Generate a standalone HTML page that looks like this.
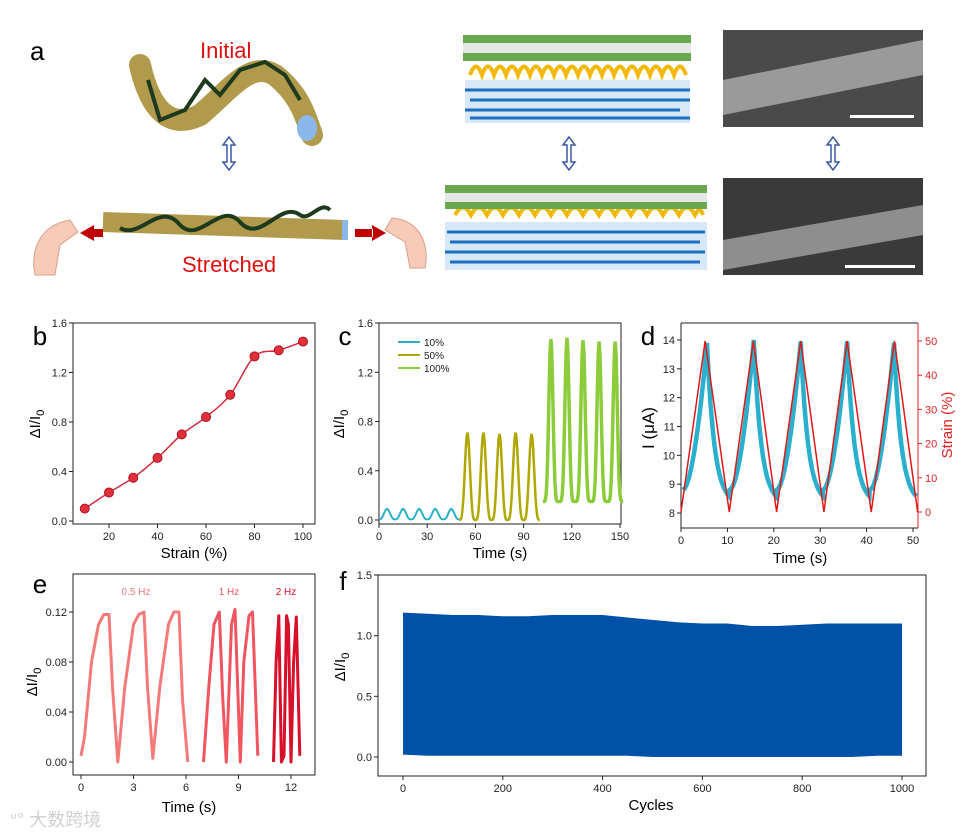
<!DOCTYPE html>
<html><head><meta charset="utf-8">
<style>
body{margin:0;background:#fff;}
svg{display:block;font-family:"Liberation Sans",Arial,sans-serif;}
</style></head>
<body>
<svg id="fig" width="966" height="834" viewBox="0 0 966 834" xmlns="http://www.w3.org/2000/svg">
<g>
<text x="30" y="60" font-size="26">a</text>
<text x="200" y="58" font-size="22" fill="#e01010">Initial</text>
<path d="M140 65 C150 110,170 130,200 115 C230 90,250 60,275 75 C300 95,305 115,312 135" stroke="#b29a4c" stroke-width="22" fill="none" stroke-linecap="round"/>
<ellipse cx="307" cy="128" rx="10" ry="13" fill="#8ab8ea"/>
<path d="M148 80 L160 120 L185 110 L205 80 L220 95 L240 70 L265 62 L285 75 L300 100" stroke="#1e3a1e" stroke-width="4" fill="none"/>
<text x="182" y="272" font-size="22" fill="#e01010">Stretched</text>
<path d="M103 222 L345 230" stroke="#b29a4c" stroke-width="20" fill="none"/>
<rect x="342" y="220" width="6" height="20" fill="#8ab8ea"/>
<path d="M120 228 C140 240,160 200,180 225 C200 245,220 200,240 222 C260 245,280 200,300 215 C310 222,320 200,330 210" stroke="#1e3a1e" stroke-width="4" fill="none"/>
<path d="M80 233 L94 225 L94 241 Z M93 229 h10 v8 h-10Z" fill="#c00000"/>
<path d="M386 233 L372 225 L372 241 Z M355 229 h18 v8 h-18Z" fill="#c00000"/>
<path d="M35 275 C30 250,40 225,70 220 L78 232 L60 245 L55 275Z" fill="#f7cbb8" stroke="#d9a08a"/>
<path d="M425 268 C430 245,420 220,392 218 L385 230 L405 242 L410 268Z" fill="#f7cbb8" stroke="#d9a08a"/>
<g fill="none" stroke="#3a5aa0" stroke-width="1.5">
<path d="M229 137 L223 145 H227 V162 H223 L229 170 L235 162 H231 V145 H235 Z"/>
<path d="M569 137 L563 145 H567 V162 H563 L569 170 L575 162 H571 V145 H575 Z"/>
<path d="M833 137 L827 145 H831 V162 H827 L833 170 L839 162 H835 V145 H839 Z"/>
</g>
<g>
<rect x="465" y="80" width="225" height="43" fill="#d8e8f6"/>
<path d="M465 90 H690 M470 100 H690 M465 110 H680 M470 118 H690" stroke="#1a6fbf" stroke-width="3"/>
<path d="M470 75 Q476 58 482 75 Q488 58 494 75 Q500 58 506 75 Q512 58 518 75 Q524 58 530 75 Q536 58 542 75 Q548 58 554 75 Q560 58 566 75 Q572 58 578 75 Q584 58 590 75 Q596 58 602 75 Q608 58 614 75 Q620 58 626 75 Q632 58 638 75 Q644 58 650 75 Q656 58 662 75 Q668 58 674 75 Q680 58 686 75" stroke="#f2b800" stroke-width="4" fill="none"/>
<rect x="463" y="35" width="228" height="8" fill="#6aa84f"/>
<rect x="463" y="43" width="228" height="10" fill="#e6e6e6"/>
<rect x="463" y="53" width="228" height="8" fill="#6aa84f"/>
</g>
<g>
<rect x="445" y="222" width="262" height="48" fill="#d8e8f6"/>
<path d="M447 232 H705 M450 242 H700 M445 252 H705 M450 262 H700" stroke="#1a6fbf" stroke-width="3"/>
<path d="M455 215 Q463 200 471 215 Q479 200 487 215 Q495 200 503 215 Q511 200 519 215 Q527 200 535 215 Q543 200 551 215 Q559 200 567 215 Q575 200 583 215 Q591 200 599 215 Q607 200 615 215 Q623 200 631 215 Q639 200 647 215 Q655 200 663 215 Q671 200 679 215 Q687 200 695 215 Q700 205 703 215" stroke="#f2b800" stroke-width="4" fill="none"/>
<rect x="445" y="185" width="262" height="8" fill="#6aa84f"/>
<rect x="445" y="193" width="262" height="9" fill="#e6e6e6"/>
<rect x="445" y="202" width="262" height="7" fill="#6aa84f"/>
</g>
<rect x="723" y="30" width="200" height="97" fill="#4a4a4a"/>
<path d="M723 80 L923 40 L923 75 L723 115 Z" fill="#9a9a9a"/>
<rect x="850" y="115" width="64" height="3" fill="#fff"/>
<rect x="723" y="178" width="200" height="97" fill="#3a3a3a"/>
<path d="M723 240 L923 205 L923 235 L723 270 Z" fill="#8e8e8e"/>
<rect x="845" y="265" width="70" height="3" fill="#fff"/>
</g>
<g id="charts"></g>
<text x="10" y="826" font-size="18" fill="#d0d0d0" font-family="'Liberation Sans','Noto Sans CJK SC',sans-serif">ᐡ° 大数跨境</text>
</svg>
<script>
// ---- data ----
const bStrain=[10,20,30,40,50,60,70,80,90,100];
const bValues=[0.10,0.23,0.35,0.51,0.70,0.84,1.02,1.33,1.38,1.45];
const bXTicks=[20,40,60,80,100];
const ivTicks=[0.0,0.4,0.8,1.2,1.6];
const cPeaks10=[5,15,25,35,45];
const cAmp10=[0.09,0.09,0.09,0.09,0.09];
const cPeaks50=[55,65,75,85,95];
const cAmp50=[0.71,0.71,0.70,0.71,0.70];
const cPeaks100=[107,117,127,137,147];
const cAmp100=[1.47,1.48,1.46,1.45,1.45];
const cXTicks=[0,30,60,90,120,150];
const dStrainT=[0,5.2,10.4,15.6,20.6,25.8,30.8,35.8,41,46,51];
const dStrainV=[0,50,0,50,0,50,0,50,0,50,0];
const dPeakT=[5.6,15.7,25.8,35.8,45.9];
const dPeakI=[13.9,14.0,13.95,13.95,13.9];
const dMinI=[8.3,8.3,8.3,8.3,8.3];
const dXTicks=[0,10,20,30,40,50];
const dLeftTicks=[8,9,10,11,12,13,14];
const dRightTicks=[0,10,20,30,40,50];
const e05T=[0,0.2,0.6,1.0,1.3,1.6,1.8,2.1,2.5,3.0,3.3,3.6,3.8,4.1,4.5,5.0,5.3,5.6,5.8,6.1];
const e05V=[0.005,0.02,0.08,0.11,0.118,0.118,0.06,0.0,0.06,0.11,0.118,0.12,0.06,0.003,0.06,0.11,0.12,0.12,0.05,0.0];
const e1T=[7.0,7.3,7.6,7.9,8.1,8.3,8.6,8.8,9.1,9.3,9.6,9.8,10.1];
const e1V=[0.0,0.06,0.11,0.12,0.05,0.0,0.11,0.122,0.0,0.08,0.117,0.12,0.005];
const e2T=[11.0,11.15,11.3,11.45,11.6,11.75,11.85,12.0,12.15,12.3,12.5];
const e2V=[0.0,0.08,0.117,0.0,0.005,0.117,0.11,0.0,0.08,0.116,0.005];
const eYTicks=[0.00,0.04,0.08,0.12];
const eXTicks=[0,3,6,9,12];
const fCycles=[0,50,100,150,200,250,300,350,400,450,500,550,600,650,700,750,800,850,900,950,1000];
const fTop=[1.19,1.18,1.17,1.17,1.16,1.16,1.17,1.17,1.17,1.15,1.13,1.11,1.10,1.10,1.08,1.08,1.09,1.10,1.10,1.10,1.10];
const fBottom=[0.02,0.01,0.01,0.01,0.01,0.01,0.01,0.01,0.01,0.01,0.0,0.0,0.0,0.0,0.0,0.0,0.0,0.0,0.0,0.01,0.01];
const fYTicks=[0.0,0.5,1.0,1.5];
const fXTicks=[0,200,400,600,800,1000];

const NS="http://www.w3.org/2000/svg";
const root=document.getElementById('charts');
function mk(tag,attrs,parent){const e=document.createElementNS(NS,tag);for(const k in attrs)e.setAttribute(k,attrs[k]);(parent||root).appendChild(e);return e;}
function lin(d0,d1,r0,r1){return v=>r0+(v-d0)/(d1-d0)*(r1-r0);}
function txt(x,y,s,size,anchor,fill,parent){const t=mk('text',{x:x,y:y,'font-size':size,'text-anchor':anchor||'middle',fill:fill||'#000'},parent);t.textContent=s;return t;}
function smooth(pts){let d='M'+pts[0][0]+' '+pts[0][1];for(let i=0;i<pts.length-1;i++){const p0=pts[i-1]||pts[i],p1=pts[i],p2=pts[i+1],p3=pts[i+2]||p2;const c1=[p1[0]+(p2[0]-p0[0])/6,p1[1]+(p2[1]-p0[1])/6],c2=[p2[0]-(p3[0]-p1[0])/6,p2[1]-(p3[1]-p1[1])/6];d+=' C'+c1[0]+' '+c1[1]+' '+c2[0]+' '+c2[1]+' '+p2[0]+' '+p2[1];}return d;}
function frame(g,x0,y0,x1,y1){const r=mk('rect',{x:x0,y:y0,width:x1-x0,height:y1-y0,fill:'none',stroke:'#222','stroke-width':1},g);}
function xticks(g,ticks,sx,yb,fmt){ticks.forEach(t=>{const l=mk('line',{x1:sx(t),x2:sx(t),y1:yb,y2:yb+4,stroke:'#222'},g);const tx=txt(sx(t),yb+16,fmt?fmt(t):t,11,'middle','#222',g);});}
function yticks(g,ticks,sy,xl,fmt,right,color){ticks.forEach(t=>{const l=mk('line',{x1:right?xl:xl-4,x2:right?xl+4:xl,y1:sy(t),y2:sy(t),stroke:color||'#222'},g);const tx=txt(right?xl+7:xl-6,sy(t)+4,fmt(t),11,right?'start':'end',color||'#222',g);});}
function ylabel(g,x,y,size,color,name){const t=mk('text',{x:0,y:0,'font-size':size,'text-anchor':'middle',fill:color||'#000',transform:'translate('+x+','+y+') rotate(-90)'},g);t.innerHTML='ΔI/I<tspan font-size="'+(size*0.75)+'" dy="4">0</tspan>';return t;}
function peakWave(peaks,amps,T,base,sx,sy,k){const pts=[];peaks.forEach((p,i)=>{for(let j=0;j<=20;j++){const t=p-T/2+T*j/20;const c=(1+Math.cos(2*Math.PI*(t-p)/T))/2;pts.push([sx(t),sy(base+(amps[i]-base)*Math.pow(c,k))]);}});return 'M'+pts.map(p=>p[0].toFixed(1)+' '+p[1].toFixed(1)).join(' L');}

// ---- panel b ----
{const g=mk('g',{});
const x0=73,x1=315,y0=323,y1=524;const sx=lin(20,100,109,303),sy=lin(0,1.6,521,323);
txt(40,345,'b',26,'middle','#000',g);
frame(g,x0,y0,x1,y1);xticks(g,bXTicks,sx,y1);yticks(g,ivTicks,sy,x0,t=>t.toFixed(1));
ylabel(g,40,424,15,'#000','y-axis-title-b');
const xt=txt(194,558,'Strain (%)',15,'middle','#000',g);
const line=mk('path',{d:smooth(bStrain.map((s,i)=>[sx(s),sy(bValues[i])])),fill:'none',stroke:'#d42a3a','stroke-width':1.5},g);
bStrain.forEach((s,i)=>{const c=mk('circle',{cx:sx(s),cy:sy(bValues[i]),r:4.5,fill:'#e0303c',stroke:'#b01020'},g);});}

// ---- panel c ----
{const g=mk('g',{});
const x0=379,x1=621,y0=323,y1=524;const sx=lin(0,150,379,620),sy=lin(0,1.6,520,323);
txt(345,345,'c',26,'middle','#000',g);
frame(g,x0,y0,x1,y1);xticks(g,cXTicks,sx,y1);yticks(g,ivTicks,sy,x0,t=>t.toFixed(1));
ylabel(g,344,424,15,'#000','y-axis-title-c');
txt(500,558,'Time (s)',15,'middle','#000',g);
const s1=mk('path',{d:peakWave(cPeaks10,cAmp10,10,0.005,sx,sy,1.5),fill:'none',stroke:'#2bb0c8','stroke-width':2},g);
const s2=mk('path',{d:peakWave(cPeaks50,cAmp50,10,0.0,sx,sy,2),fill:'none',stroke:'#b0a800','stroke-width':2.5},g);
const s3=mk('path',{d:peakWave(cPeaks100,cAmp100,10,0.15,sx,sy,3),fill:'none',stroke:'#8ccc3a','stroke-width':3.5},g);
[['10%','#2bb0c8'],['50%','#b0a800'],['100%','#8ccc3a']].forEach((l,i)=>{const y=342+i*13;const ln=mk('line',{x1:398,x2:420,y1:y,y2:y,stroke:l[1],'stroke-width':2},g);const t=txt(424,y+4,l[0],10,'start','#222',g);});}

// ---- panel d ----
{const g=mk('g',{});
const x0=681,x1=918,y0=323,y1=528;const sx=lin(0,50,681,913),sy=lin(8,14,513,340),sr=lin(0,50,512,341);
txt(648,345,'d',26,'middle','#000',g);
mk('line',{x1:x0,y1:y0,x2:x1,y2:y0,stroke:'#222'},g);mk('line',{x1:x0,y1:y1,x2:x1,y2:y1,stroke:'#222'},g);mk('line',{x1:x0,y1:y0,x2:x0,y2:y1,stroke:'#222'},g);
const ra=mk('line',{x1:x1,y1:y0,x2:x1,y2:y1,stroke:'#e02020'},g);
xticks(g,dXTicks,sx,y1);yticks(g,dLeftTicks,sy,x0,t=>t);yticks(g,dRightTicks,sr,x1,t=>t,true,'#e02020');
const yl=mk('text',{x:0,y:0,'font-size':17,'text-anchor':'middle',transform:'translate(654,428) rotate(-90)'},g);yl.textContent='I (μA)';
const yr=mk('text',{x:0,y:0,'font-size':15,'text-anchor':'middle',fill:'#e02020',transform:'translate(952,425) rotate(-90)'},g);yr.textContent='Strain (%)';
txt(800,563,'Time (s)',15,'middle','#000',g);
const pts=[];dPeakT.forEach((p,i)=>{const mn=dMinI[i],mx=dPeakI[i];for(let j=0;j<=12;j++){const u=j/12;pts.push([sx(p-5.2+5.2*u),sy(mn+0.5+(mx-mn-0.5)*Math.pow(u,1.8))]);}for(let j=1;j<=12;j++){const u=j/12;pts.push([sx(p+4.8*u),sy(mn+(mx-mn)*Math.exp(-3*u))]);}});
const cur=mk('path',{d:'M'+pts.map(p=>p[0].toFixed(1)+' '+p[1].toFixed(1)).join(' L'),fill:'none',stroke:'#2ab0cc','stroke-width':4.5},g);
const st=mk('polyline',{points:dStrainT.map((t,i)=>sx(t)+','+sr(dStrainV[i])).join(' '),fill:'none',stroke:'#e01818','stroke-width':1.5},g);}

// ---- panel e ----
{const g=mk('g',{});
const x0=73,x1=315,y0=574,y1=775;const sx=lin(0,12,81,291),sy=lin(0,0.12,762,612);
txt(40,593,'e',26,'middle','#000',g);
frame(g,x0,y0,x1,y1);xticks(g,eXTicks,sx,y1);yticks(g,eYTicks,sy,x0,t=>t.toFixed(2));
ylabel(g,37,682,15,'#000','y-axis-title-e');
txt(189,812,'Time (s)',15,'middle','#000',g);
[[e05T,e05V,'#f47a7a','series-0p5hz'],[e1T,e1V,'#f05560','series-1hz'],[e2T,e2V,'#d8102a','series-2hz']].forEach(s=>{const p=mk('polyline',{points:s[0].map((t,i)=>sx(t).toFixed(1)+','+sy(s[1][i]).toFixed(1)).join(' '),fill:'none',stroke:s[2],'stroke-width':3,'stroke-linejoin':'round'},g);});
[['0.5 Hz',136,'#f47a7a'],['1 Hz',229,'#f05560'],['2 Hz',286,'#d8102a']].forEach(l=>{const t=txt(l[1],595,l[0],10,'middle',l[2],g);});}

// ---- panel f ----
{const g=mk('g',{});
const x0=378,x1=926,y0=575,y1=776;const sx=lin(0,1000,403,902),sy=lin(0,1.5,757,575);
txt(343,590,'f',26,'middle','#000',g);
frame(g,x0,y0,x1,y1);xticks(g,fXTicks,sx,y1);yticks(g,fYTicks,sy,x0,t=>t.toFixed(1));
ylabel(g,345,667,15,'#000','y-axis-title-f');
txt(651,810,'Cycles',15,'middle','#000',g);
const top=fCycles.map((c,i)=>sx(c).toFixed(1)+','+sy(fTop[i]).toFixed(1));
const bot=fCycles.map((c,i)=>sx(c).toFixed(1)+','+sy(fBottom[i]).toFixed(1)).reverse();
const band=mk('polygon',{points:top.concat(bot).join(' '),fill:'#0052a8'},g);}
</script>
</body></html>
